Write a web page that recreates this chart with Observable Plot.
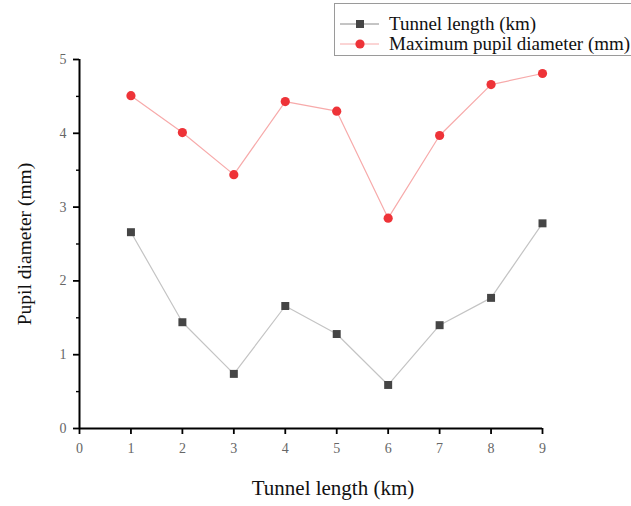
<!DOCTYPE html>
<html>
<head>
<meta charset="utf-8">
<script src="https://cdn.jsdelivr.net/npm/d3@7"></script>
<script src="https://cdn.jsdelivr.net/npm/@observablehq/plot@0.6"></script>
<style>
  html, body { margin: 0; padding: 0; background: #fff; }
  #wrap { position: relative; width: 631px; height: 506px; font-family: "Liberation Serif", "DejaVu Serif", serif; }
  #legend { position: absolute; left: 334px; top: 3px; width: 320px; height: 53px; border: 1px solid #9a9a9a; background: #fff; box-sizing: border-box; }
  .row { position: absolute; left: 0; height: 20px; display: flex; align-items: center; font-size: 19px; color: #111; white-space: nowrap; }
  .row svg { margin-left: 4px; margin-right: 8px; }
</style>
</head>
<body>
<div id="wrap"></div>
<script>
const tunnel = [1, 2, 3, 4, 5, 6, 7, 8, 9];
const tunnelLength = [2.66, 1.44, 0.74, 1.66, 1.28, 0.59, 1.40, 1.77, 2.78];
const maxPupil = [4.51, 4.01, 3.44, 4.43, 4.30, 2.85, 3.97, 4.66, 4.81];
const xTicks = [0, 1, 2, 3, 4, 5, 6, 7, 8, 9];
const yTicks = [0, 1, 2, 3, 4, 5];
const yMinor = [0.5, 1.5, 2.5, 3.5, 4.5];
const seriesNames = ["Tunnel length (km)", "Maximum pupil diameter (mm)"];
const xTitle = "Tunnel length (km)";
const yTitle = "Pupil diameter (mm)";

const blackData = tunnel.map((x, i) => ({x, y: tunnelLength[i]}));
const redData = tunnel.map((x, i) => ({x, y: maxPupil[i]}));

const serif = "Liberation Serif, DejaVu Serif, serif";

const chart = Plot.plot({
  width: 631,
  height: 506,
  marginLeft: 79,
  marginRight: 89,
  marginTop: 59,
  marginBottom: 78,
  style: {fontFamily: serif, background: "#fff", overflow: "visible"},
  x: {domain: [0, 9]},
  y: {domain: [0, 5]},
  marks: [
    Plot.axisX({ticks: xTicks, tickSize: 6, tickPadding: 9, fontSize: 14, tickFormat: d3.format("d"), label: null, stroke: "#000", strokeWidth: 1.8, strokeOpacity: 1}),
    Plot.axisY({ticks: yTicks, tickSize: 6, tickPadding: 7, fontSize: 14, tickFormat: d3.format("d"), label: null, stroke: "#000", strokeWidth: 1.8, strokeOpacity: 1}),
    Plot.axisY({ticks: yMinor, tickSize: 3, tickFormat: () => "", label: null, stroke: "#000", strokeWidth: 1.4, strokeOpacity: 1}),
    Plot.ruleX([0], {stroke: "#000", strokeWidth: 2}),
    Plot.ruleY([0], {stroke: "#000", strokeWidth: 2}),
    Plot.line(blackData, {x: "x", y: "y", stroke: "#c4c4c4", strokeWidth: 1.2}),
    Plot.line(redData, {x: "x", y: "y", stroke: "#f7aaaa", strokeWidth: 1.2}),
    Plot.dot(blackData, {x: "x", y: "y", symbol: "square", r: 4.5, fill: "#454545", stroke: null}),
    Plot.dot(redData, {x: "x", y: "y", symbol: "circle", r: 4.6, fill: "#ee3338", stroke: null}),
    Plot.text([xTitle], {frameAnchor: "bottom", dx: 22, dy: 66, text: d => d, fontSize: 21, fill: "#111", fontFamily: serif}),
    Plot.text([yTitle], {frameAnchor: "left", dx: -55, rotate: -90, textAnchor: "middle", text: d => d, fontSize: 19.5, fill: "#111", fontFamily: serif})
  ]
});
chart.querySelectorAll("[aria-label='x-axis tick label'] text, [aria-label='y-axis tick label'] text").forEach(t => t.setAttribute("fill", "#666"));
const wrap = document.getElementById("wrap");
wrap.appendChild(chart);

// legend overlay
const legend = document.createElement("div");
legend.id = "legend";
const rows = [
  {name: seriesNames[0], line: "#8a8a8a", marker: `<rect x="17" y="6" width="8" height="8" fill="#454545"/>`, top: 10},
  {name: seriesNames[1], line: "#f7aaaa", marker: `<circle cx="21" cy="10" r="4.6" fill="#ee3338"/>`, top: 30}
];
rows.forEach(r => {
  const row = document.createElement("div");
  row.className = "row";
  row.style.top = r.top + "px";
  row.innerHTML = `<svg width="42" height="20"><line x1="1" x2="40" y1="10" y2="10" stroke="${r.line}" stroke-width="1"/>${r.marker}</svg><span>${r.name}</span>`;
  legend.appendChild(row);
});
wrap.appendChild(legend);
</script>
</body>
</html>
